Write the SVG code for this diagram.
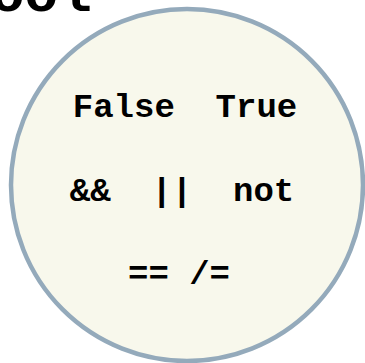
<svg xmlns="http://www.w3.org/2000/svg" width="365" height="363" viewBox="0 0 365 363">
<style>
.t{font-family:"Liberation Mono","Courier New",monospace;font-weight:bold;fill:#000;}
.s{font-size:34px;}
</style>
<rect width="365" height="363" fill="#fff"/>
<text class="t" x="-9" y="11" font-size="56">ool</text>
<g id="bool">
<circle cx="187" cy="185" r="176" fill="#f8f8ec" stroke="#94aabb" stroke-width="4.5"/>
<text class="t s" x="185" y="117" text-anchor="middle" xml:space="preserve">False  True</text>
<text class="t s" x="182" y="201" text-anchor="middle" xml:space="preserve">&amp;&amp;  ||  not</text>
<text class="t s" x="179" y="284" text-anchor="middle" xml:space="preserve">== /=</text>
</g>
</svg>
